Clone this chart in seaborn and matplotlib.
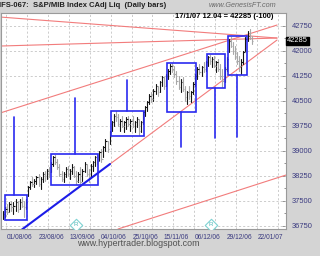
import numpy as np
import pandas as pd
import matplotlib
matplotlib.use("Agg")
import matplotlib.pyplot as plt
from matplotlib.patches import Rectangle
from matplotlib.ticker import FixedLocator, MultipleLocator
import seaborn as sns

# ---------------- data ----------------
highs = [37200, 37300, 37400, 37450, 37500, 37450, 37550, 37500, 37550, 37600, 37500, 37550,
         37950, 38100, 38200, 38150, 38250, 38300, 38200, 38350, 38400, 38450, 38500,
         38650, 38850, 38880, 38750, 38600, 38400, 38350, 38500, 38550, 38450, 38600, 38550,
         38400, 38350, 38500, 38450, 38650, 38600, 38450, 38600, 38700, 38850, 38880,
         39000, 39050, 39150, 39350, 39300, 39600,
         39900, 40100, 40180, 40100, 39950, 40050, 39900, 40000, 40050, 39950, 40050, 39900,
         40000, 39950, 39900, 40200,
         40350, 40500, 40700, 40750, 40850, 41000, 40950, 41100, 41250, 41200, 41300,
         41450, 41600, 41620, 41550, 41400, 41250, 41150, 41200, 40950, 40800, 40950, 40800,
         41050, 41300,
         41500, 41600, 41550, 41650, 41700,
         41850, 41880, 41800, 41850, 41700, 41750, 41600, 41450, 41500,
         41800,
         42350, 42400, 42250, 42150, 41950, 41850, 41750, 42000, 42400,
         42600, 42650, 42450]
lows = [36950, 37000, 37100, 37150, 37200, 37100, 37200, 37150, 37250, 37300, 37000, 37250,
        37650, 37850, 37950, 37900, 38000, 37950, 37850, 38050, 38100, 38150, 38200,
        38350, 38550, 38600, 38450, 38250, 38100, 38050, 38200, 38250, 38150, 38300, 38200,
        38000, 38050, 38000, 38100, 38350, 38250, 38050, 38200, 38400, 38550, 38600,
        38700, 38650, 38800, 39000, 38950, 39200,
        39600, 39750, 39900, 39750, 39600, 39700, 39550, 39650, 39750, 39600, 39700, 39550,
        39700, 39460, 39550, 39800,
        40050, 40200, 40400, 40450, 40500, 40700, 40650, 40750, 40950, 40850, 40950,
        41150, 41300, 41350, 41200, 41000, 40850, 40750, 40800, 40500, 40400, 40550, 40450,
        40700, 40950,
        41150, 41300, 41250, 41350, 41400,
        41550, 41600, 41500, 41500, 41350, 41400, 41150, 40900, 41050,
        41400,
        41950, 42100, 41900, 41750, 41600, 41400, 41300, 41600, 42000,
        42300, 42350, 42200]
closes = [37100, 37250, 37150, 37400, 37300, 37350, 37450, 37250, 37450, 37350, 37300, 37450,
          37900, 38050, 38000, 38100, 38200, 38000, 38150, 38300, 38250, 38400, 38350,
          38600, 38800, 38650, 38500, 38300, 38150, 38300, 38450, 38300, 38400, 38500, 38250,
          38100, 38300, 38050, 38400, 38600, 38300, 38200, 38550, 38650, 38800, 38700,
          38950, 38750, 39100, 39300, 39050, 39550,
          39850, 40050, 40000, 39800, 39900, 39750, 39850, 39950, 39800, 39900, 39750, 39850,
          39950, 39600, 39850, 40150,
          40300, 40450, 40650, 40550, 40800, 40950, 40750, 41050, 41200, 40950, 41250,
          41400, 41550, 41450, 41300, 41100, 40900, 41050, 40850, 40600, 40750, 40650, 40750,
          41000, 41250,
          41450, 41350, 41500, 41450, 41650,
          41800, 41700, 41750, 41550, 41650, 41450, 41250, 41100, 41450,
          41750,
          42300, 42150, 42000, 41850, 41700, 41550, 41650, 41950, 42350,
          42450, 42385, 42285]

date_labels = ["01/08/06", "23/08/06", "13/09/06", "04/10/06", "25/10/06",
               "15/11/06", "06/12/06", "29/12/06", "22/01/07"]
date_label_bars = [8, 23, 38, 53, 68, 83, 98, 113, 128]
price_ticks = [36750, 37500, 38250, 39000, 39750, 40500, 41250, 42000, 42750]

# consolidation boxes: start bar, end bar, top, bottom, stem bar, stem end price
box_start = [1.0, 23.0, 51.7, 78.5, 97.6, 107.7]
box_end = [11.5, 45.5, 67.5, 92.3, 106.2, 116.7]
box_top = [37665, 38900, 40190, 41630, 41900, 42440]
box_bottom = [36920, 37970, 39440, 40160, 40880, 41270]
stem_bar = [5.3, 34.4, 59.3, 85.2, 101.4, 112.0]
stem_end = [40010, 40580, 41120, 39110, 39380, 39410]

# trend lines: (bar0, price0, bar1, price1)
red_lines = [(-1.4, 43010, 131.1, 42380),
             (-1.4, 42140, 131.1, 42380),
             (-1.4, 40130, 131.1, 42770),
             (51.2, 38600, 131.1, 42320),
             (55.0, 36650, 135.4, 38270)]
blue_line = (8.1, 36590, 51.2, 38600)

r_marker_bars = [34.9, 99.5]
r_marker_price = [36775, 36775]

# ---------------- style ----------------
sns.set_theme(style="white")
plt.rcParams["font.family"] = ["Liberation Sans", "DejaVu Sans"]

fig = plt.figure(figsize=(3.2, 2.56), dpi=100)
fig.patch.set_facecolor("#d4d4d4")
ax = fig.add_axes([1 / 320, 27 / 256, 285 / 320, 216 / 256])
ax.set_facecolor("white")

n = len(closes)
bars = np.arange(n)
direction = ["up" if (i == 0 or closes[i] >= closes[i - 1]) else "down" for i in range(n)]
df = pd.DataFrame({
    "bar": np.repeat(bars, 2),
    "price": np.ravel(np.column_stack([lows, highs])),
    "dir": np.repeat(direction, 2),
})
sns.lineplot(data=df, x="bar", y="price", units="bar", estimator=None, hue="dir",
             palette={"up": "#151515", "down": "#a8a8a8"}, lw=0.8, legend=False,
             ax=ax, zorder=3)
tick_cols = ["#151515" if d == "up" else "#a8a8a8" for d in direction]
ax.hlines(closes, bars, bars + 0.7, colors=tick_cols, lw=0.8, zorder=3)

# trend lines
for (x0, y0, x1, y1) in red_lines:
    ax.plot([x0, x1], [y0, y1], color="#f27c7c", lw=0.8, zorder=2)
ax.plot([blue_line[0], blue_line[2]], [blue_line[1], blue_line[3]],
        color="#1c1ce8", lw=1.5, zorder=4)

# boxes + stems
for s, e, t, b, sb, se in zip(box_start, box_end, box_top, box_bottom, stem_bar, stem_end):
    ax.add_patch(Rectangle((s, b), e - s, t - b, fill=False, edgecolor="#2a2af0",
                           lw=1.2, zorder=4))
    anchor = t if se > t else b
    ax.plot([sb, sb], [anchor, se], color="#2a2af0", lw=1.2, zorder=4)

# R markers
sns.scatterplot(x=r_marker_bars, y=r_marker_price, marker="D", s=40,
                facecolor="white", edgecolor="#7fd3d3", linewidth=0.8, ax=ax, zorder=5)
for xb, yp in zip(r_marker_bars, r_marker_price):
    ax.text(xb, yp, "R", color="#4db8b8", fontsize=4.5, ha="center", va="center", zorder=6)

# axes limits and ticks
ax.set_xlim(-0.96, 135.4)
ax.set_ylim(36651, 43131)
ax.yaxis.tick_right()
ax.yaxis.set_major_locator(FixedLocator(price_ticks))
ax.yaxis.set_minor_locator(MultipleLocator(375))
ax.set_yticklabels([str(p) for p in price_ticks])
ax.tick_params(axis="y", which="major", direction="in", length=3, width=0.6,
               color="#808080", labelsize=5.4, labelcolor="#3a3a80", pad=4,
               right=True, left=False)
ax.tick_params(axis="y", which="minor", direction="in", length=1.5, width=0.6,
               color="#808080", right=True, left=False)
ax.set_xticks(date_label_bars)
ax.set_xticklabels(date_labels)
ax.xaxis.set_minor_locator(FixedLocator(np.arange(1.5, 136, 10)))
ax.tick_params(axis="x", which="both", length=0, labelsize=4.8,
               labelcolor="#3a3a80", pad=3.5)
ax.set_xlabel("")
ax.set_ylabel("")

ax.grid(False)
for p in price_ticks:
    ax.axhline(p, color="#c4c4c4", lw=0.6, ls=(0, (2.5, 2.5)), zorder=1)
for xb in np.arange(1.5, 136, 10):
    ax.axvline(xb, color="#c4c4c4", lw=0.6, ls=(0, (2.5, 2.5)), zorder=1)

for sp in ax.spines.values():
    sp.set_color("#9a9a9a")
    sp.set_linewidth(0.8)

# texts
fig.text(-1 / 320, 1 - 5.5 / 256, "IFS-067:  S&P/MIB Index CAdj Liq  (Daily bars)",
         fontsize=5.5, fontweight="bold", color="#202020", ha="left", va="center")
fig.text(242.5 / 320, 1 - 5.5 / 256, "www.GenesisFT.com", fontsize=5.2, style="italic",
         color="#6a6a6a", ha="center", va="center")
fig.text(224 / 320, 1 - 17 / 256, "17/1/07 12.04 = 42285 (-100)", fontsize=5.4,
         fontweight="bold", color="black", ha="center", va="center")
fig.text(297.5 / 320, 1 - 41 / 256, "42285", fontsize=5.4, color="white",
         ha="center", va="center",
         bbox=dict(facecolor="black", edgecolor="black", pad=0.6))
fig.text(138 / 320, 1 - 244 / 256, "www.hypertrader.blogspot.com", fontsize=6.4,
         color="#505050", ha="center", va="center")

fig.savefig("out.png", dpi=100, facecolor=fig.get_facecolor())
